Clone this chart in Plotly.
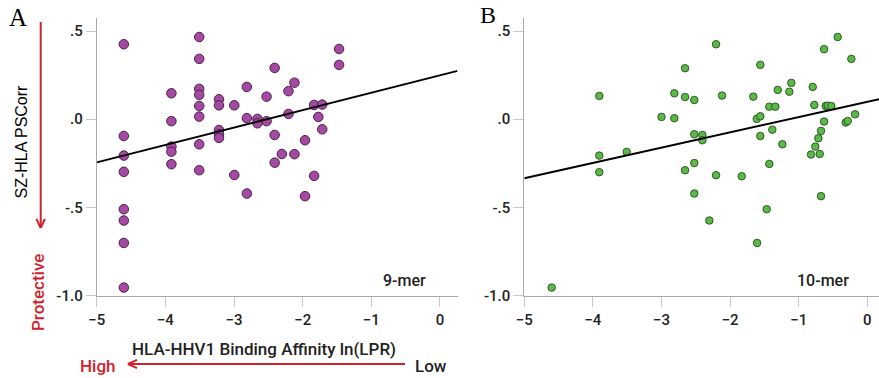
import plotly.graph_objects as go
import numpy as np

# ---------------- data ----------------
x9 = [-4.605]*8 + [-3.912]*5 + [-3.507]*8 + [-3.219]*5 + [-2.996]*2 + [-2.813]*3 + \
     [-2.659]*2 + [-2.526]*2 + [-2.408]*3 + [-2.303] + [-2.207]*2 + [-2.120]*2 + \
     [-1.966]*2 + [-1.833]*2 + [-1.772] + [-1.715]*2 + [-1.470]*2
y9 = [0.425, -0.095, -0.206, -0.298, -0.510, -0.574, -0.701, -0.954,
      0.147, -0.011, -0.155, -0.184, -0.255,
      0.466, 0.342, 0.172, 0.138, 0.075, 0.015, -0.142, -0.289,
      0.113, 0.079, -0.061, -0.085, -0.106,
      0.079, -0.316,
      0.183, 0.006, -0.421,
      0.002, -0.023,
      0.128, -0.011,
      0.291, -0.089, -0.246,
      -0.197,
      0.159, 0.030,
      0.207, -0.198,
      -0.119, -0.436,
      0.081, -0.321,
      0.013,
      0.083, -0.057,
      0.398, 0.308]

x10 = [-3.907, -3.907, -3.907, -3.507, -3.0, -2.813, -2.813, -2.657, -2.657, -2.657,
       -2.522, -2.522, -2.522, -2.522, -2.405, -2.405, -2.205, -2.205, -2.118, -2.303,
       -1.831, -1.662, -1.612, -1.560, -1.560, -1.560, -1.607, -1.429, -1.429, -1.467,
       -1.385, -1.341, -1.306, -1.239, -1.137, -1.108, -0.821, -0.796, -0.773, -0.758,
       -0.714, -0.694, -0.675, -0.675, -0.631, -0.631, -0.607, -0.578, -0.525, -0.432,
       -0.315, -0.286, -0.233, -0.179, -4.601]
y10 = [0.132, -0.206, -0.300, -0.185, 0.013, 0.006, 0.147, 0.289, 0.126, -0.289,
       0.109, -0.085, -0.248, -0.421, -0.089, -0.119, 0.425, -0.317, 0.134, -0.574,
       -0.323, 0.128, 0.002, 0.017, 0.308, -0.095, -0.701, 0.071, -0.253, -0.510,
       -0.059, 0.071, 0.166, -0.142, 0.156, 0.206, -0.200, 0.183, 0.081, -0.155,
       -0.108, -0.197, -0.066, -0.436, 0.397, -0.013, 0.075, 0.077, 0.075, 0.466,
       -0.019, -0.010, 0.342, 0.028, -0.954]

# regression lines (intercept, slope)
fit9 = (0.249, 0.0987)
fit10 = (0.099, 0.0866)

xticks = [-5, -4, -3, -2, -1, 0]
yticks = [0.5, 0.0, -0.5, -1.0]
yticktext = [".5", ".0", "-.5", "-1.0"]

xrange9 = [-5, 0.255]
xrange10 = [-5, 0.17]
yrange = [-1.0, 0.572]

# ---------------- figure ----------------
W, H = 879, 378
def px(x):
    return x / W
def py(y):
    return 1 - y / H

purple = "#A54AA2"
purple_edge = "#4B1F4A"
green = "#5BBA47"
green_edge = "#2C5A25"
red = "#D0222B"

tickfont = dict(family="Roboto", size=15, color="#222222", weight=500)

fig = go.Figure()

fig.add_trace(go.Scatter(x=x9, y=y9, mode="markers", xaxis="x", yaxis="y",
                         marker=dict(size=9.5, color=purple, line=dict(color=purple_edge, width=1)),
                         showlegend=False))
lx9 = np.array(xrange9)
fig.add_trace(go.Scatter(x=lx9, y=fit9[0] + fit9[1]*lx9, mode="lines", xaxis="x", yaxis="y",
                         line=dict(color="black", width=2), showlegend=False))

fig.add_trace(go.Scatter(x=x10, y=y10, mode="markers", xaxis="x2", yaxis="y2",
                         marker=dict(size=7.5, color=green, line=dict(color=green_edge, width=1)),
                         showlegend=False))
lx10 = np.array(xrange10)
fig.add_trace(go.Scatter(x=lx10, y=fit10[0] + fit10[1]*lx10, mode="lines", xaxis="x2", yaxis="y2",
                         line=dict(color="black", width=2), showlegend=False))

axcommon = dict(showgrid=False, zeroline=False, showline=True, linecolor="#A8A8A8", linewidth=1,
                ticks="outside", ticklen=10, tickcolor="#C8C8C8", tickwidth=1, tickfont=tickfont,
                automargin=False)

ydom = [py(295.7), py(18.3)]
fig.update_layout(
    width=W, height=H, margin=dict(l=0, r=0, t=0, b=0, pad=0, autoexpand=False),
    paper_bgcolor="white", plot_bgcolor="white",
    xaxis=dict(domain=[px(96.7), px(457.5)], range=xrange9, tickvals=xticks, anchor="y", **axcommon),
    yaxis=dict(domain=ydom, range=yrange, tickvals=yticks, ticktext=yticktext, anchor="x", **axcommon),
    xaxis2=dict(domain=[px(524.3), 1.0], range=xrange10, tickvals=xticks, anchor="y2", **axcommon),
    yaxis2=dict(domain=ydom, range=yrange, tickvals=yticks, ticktext=yticktext, anchor="x2", **axcommon),
)

anns = []
def ann(text, x, y, size, color="#222222", family="Roboto", angle=0, weight=500):
    anns.append(dict(text=text, x=px(x), y=py(y), xref="paper", yref="paper", showarrow=False,
                     xanchor="center", yanchor="middle", textangle=angle,
                     font=dict(family=family, size=size, color=color, weight=weight)))

ann("A", 18, 17, 25, color="black", family="Liberation Serif", weight=400)
ann("B", 488, 15, 24, color="black", family="Liberation Serif", weight=400)
ann("SZ-HLA PSCorr", 21.5, 142, 16, color="black", family="Liberation Sans", angle=-90, weight=400)
ann("Protective", 38, 293, 17, color=red, angle=-90)
ann("HLA-HHV1 Binding Affinity ln(LPR)", 264, 349, 17)
ann("High", 97, 366, 17, color=red)
ann("Low", 431, 366, 17)
ann("9-mer", 404, 280, 16)
ann("10-mer", 823, 280, 16)
fig.update_layout(annotations=anns)

shapes = []
def seg(x0, y0, x1, y1):
    shapes.append(dict(type="line", xref="paper", yref="paper", x0=px(x0), y0=py(y0), x1=px(x1), y1=py(y1),
                       line=dict(color=red, width=2)))
# vertical arrow (down)
seg(40.7, 22, 40.7, 228)
seg(40.7, 228, 36.5, 219)
seg(40.7, 228, 44.9, 219)
# horizontal arrow (left)
seg(405, 364, 128, 364)
seg(128, 364, 137, 359.8)
seg(128, 364, 137, 368.2)
fig.update_layout(shapes=shapes)

fig.write_html("out.html")
